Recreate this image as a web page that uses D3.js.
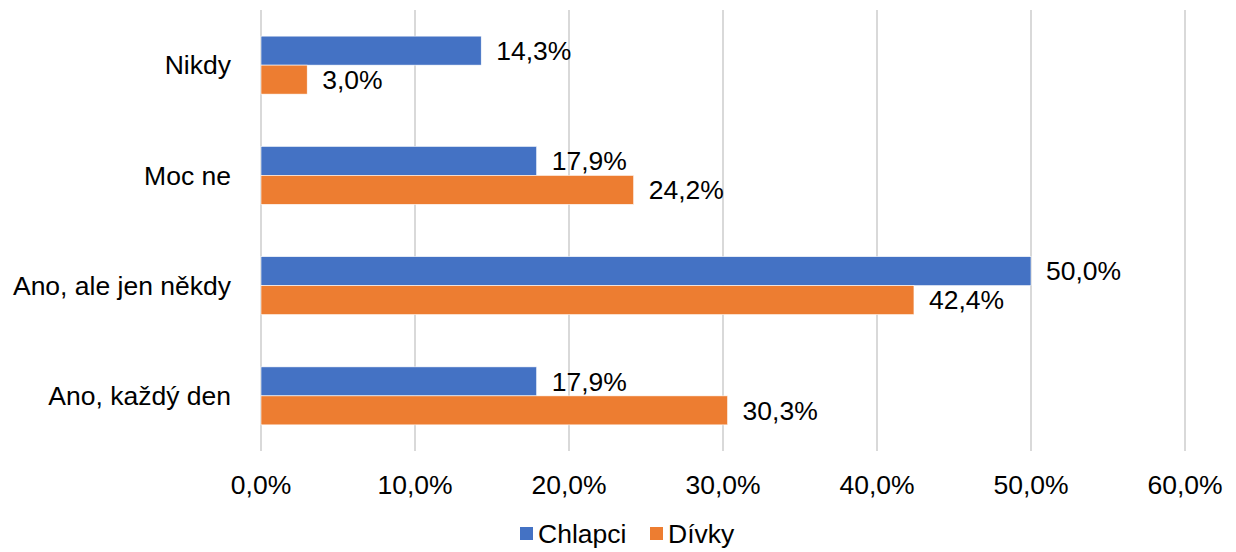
<!DOCTYPE html>
<html>
<head>
<meta charset="utf-8">
<script src="https://cdn.jsdelivr.net/npm/d3@7"></script>
<style>
  body { margin: 0; background: #fff; }
  text { font-family: "Liberation Sans", Arial, sans-serif; fill: #000; }
</style>
</head>
<body>
<svg id="chart" width="1236" height="552"></svg>
<script>
const categories = ["Nikdy", "Moc ne", "Ano, ale jen někdy", "Ano, každý den"];
const seriesNames = ["Chlapci", "Dívky"];
const chlapci = [14.3, 17.9, 50.0, 17.9];
const divky = [3.0, 24.2, 42.4, 30.3];
const xTicks = [0, 10, 20, 30, 40, 50, 60];
const colors = ["#4472C4", "#ED7D31"];

const svg = d3.select("#chart");
const plotLeft = 261, plotRight = 1185, plotTop = 10, plotBottom = 451;
const fontSize = "26.5px";
const fmt = v => d3.format(".1f")(v).replace(".", ",") + "%";

const x = d3.scaleLinear().domain([0, 60]).range([plotLeft, plotRight]);
const y = d3.scaleBand().domain(categories).range([plotTop, plotBottom])
    .paddingInner(0.474).paddingOuter(0.237);
const ySub = d3.scaleBand().domain(seriesNames).range([0, y.bandwidth()]);
const color = d3.scaleOrdinal(seriesNames, colors);

// Gridlines
svg.append("g")
    .selectAll("line")
    .data(xTicks)
    .enter()
    .append("line")
    .attr("x1", d => x(d)).attr("x2", d => x(d))
    .attr("y1", plotTop).attr("y2", plotBottom)
    .attr("stroke", "#d9d9d9")
    .attr("stroke-width", 2);

// Tick labels
svg.append("g")
    .selectAll("text")
    .data(xTicks)
    .enter()
    .append("text")
    .attr("x", d => x(d))
    .attr("y", 494)
    .attr("text-anchor", "middle")
    .style("font-size", fontSize)
    .text(d => fmt(d));

// Category labels
svg.append("g")
    .selectAll("text")
    .data(categories)
    .enter()
    .append("text")
    .attr("x", plotLeft - 30)
    .attr("y", d => y(d) + y.bandwidth() / 2)
    .attr("dy", "0.35em")
    .attr("text-anchor", "end")
    .style("font-size", fontSize)
    .text(d => d);

const rows = categories.map((c, i) => ({ cat: c, values: [chlapci[i], divky[i]] }));

// Bars + labels
const grp = svg.append("g")
    .selectAll("g")
    .data(rows)
    .enter()
    .append("g")
    .attr("transform", d => `translate(0,${y(d.cat)})`);

const items = grp.selectAll(".item")
    .data(d => d.values.map((v, i) => ({ key: seriesNames[i], value: v })))
    .enter();

items.append("rect")
    .attr("x", x(0))
    .attr("y", d => ySub(d.key))
    .attr("width", d => x(d.value) - x(0))
    .attr("height", ySub.bandwidth())
    .attr("fill", d => color(d.key))
    .attr("stroke", "#fff")
    .attr("stroke-width", 0.6);

items.append("text")
    .attr("x", d => x(d.value) + 15)
    .attr("y", d => ySub(d.key) + ySub.bandwidth() / 2)
    .attr("dy", "0.35em")
    .style("font-size", fontSize)
    .text(d => fmt(d.value));

// Legend
const legend = svg.append("g")
    .selectAll("g")
    .data(seriesNames)
    .enter()
    .append("g")
    .attr("transform", (d, i) => `translate(${[520, 650][i]},527)`);

legend.append("rect")
    .attr("width", 13).attr("height", 13)
    .attr("fill", d => color(d));

legend.append("text")
    .attr("x", 18)
    .attr("y", 6.5)
    .attr("dy", "0.35em")
    .style("font-size", fontSize)
    .text(d => d);
</script>
</body>
</html>
